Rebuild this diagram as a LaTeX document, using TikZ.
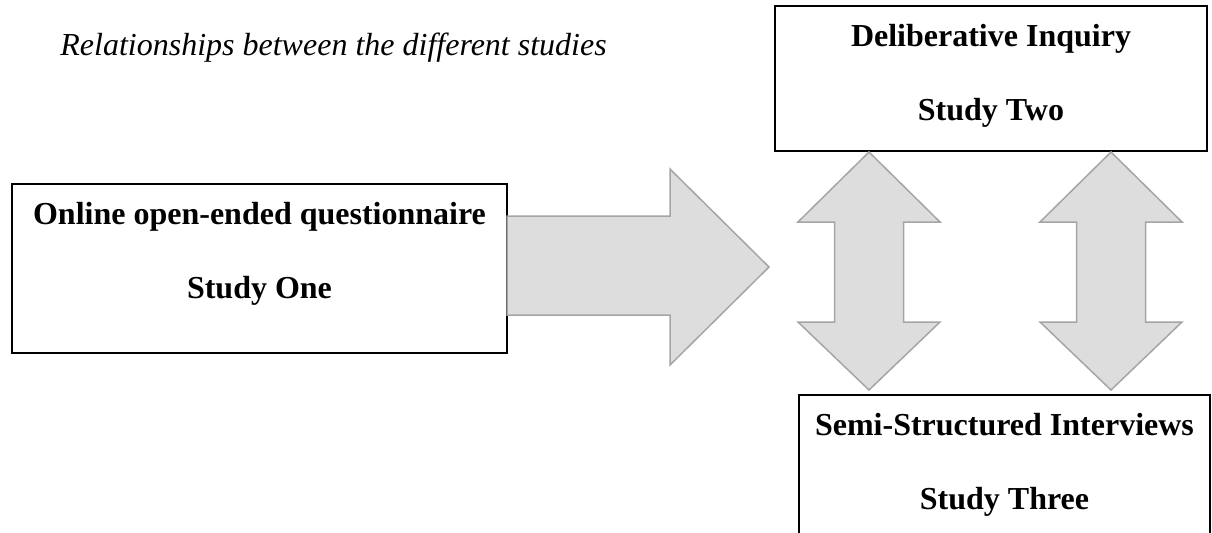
\documentclass[tikz,border=0pt]{standalone}
\usepackage{fontspec}
\setmainfont{Liberation Serif}

\definecolor{arrowfill}{HTML}{DDDDDD}
\definecolor{arrowline}{HTML}{A5A5A5}

\begin{document}
\begin{tikzpicture}[
        x=0.5pt, y=-0.5pt,
        study/.style={draw, rectangle, line width=0.75pt, inner sep=0pt, fill=white},
        studytext/.style={font=\fontsize{16}{37}\selectfont\bfseries, align=center, anchor=north, inner sep=0pt},
        blockarrow/.style={draw=arrowline, fill=arrowfill, line width=0.75pt, line join=miter}
        ]
        \useasboundingbox (0,0) rectangle (1212,532);

        % Title
        \node[anchor=base west, inner sep=0pt, font=\fontsize{16}{19}\selectfont\itshape] (title) at (60,55) {Relationships between the different studies};

        % Boxes
        \node[study, minimum width=216pt, minimum height=72.5pt] (two) at (991,78.5) {};
        \node[study, minimum width=247.5pt, minimum height=84.5pt] (one) at (259.5,268.5) {};
        \node[study, minimum width=205.5pt, minimum height=75pt] (three) at (1004.5,470) {};

        % Box texts
        \node[studytext] (twotext) at ([yshift=-9.5pt]two.north) {Deliberative Inquiry\\Study Two};
        \node[studytext] (onetext) at ([yshift=-9.5pt]one.north) {Online open-ended questionnaire\\Study One};
        \node[studytext] (threetext) at ([yshift=-9.5pt]three.north) {Semi-Structured Interviews\\Study Three};

        % Study One -> Studies Two and Three
        \draw[blockarrow] (507,216) -- (670,216) -- (670,169) -- (769,267) -- (670,365) -- (670,315) -- (507,315) -- cycle;

        % Two <-> Three
        \foreach \cx in {869,1111}
            \draw[blockarrow] (\cx,152) -- (\cx+71,222) -- (\cx+34.5,222) -- (\cx+34.5,322) -- (\cx+71,322)
                -- (\cx,390) -- (\cx-71,322) -- (\cx-34.5,322) -- (\cx-34.5,222) -- (\cx-71,222) -- cycle;

    \end{tikzpicture}
\end{document}
